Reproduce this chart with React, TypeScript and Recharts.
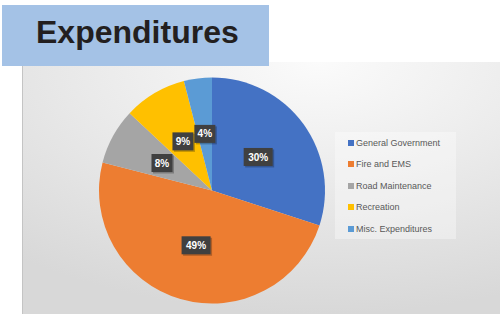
import React from 'react';
import { PieChart, Pie, Cell, Legend } from 'recharts';

const categories = ['General Government', 'Fire and EMS', 'Road Maintenance', 'Recreation', 'Misc. Expenditures'];
const shares = [30, 49, 8, 9, 4];
const colors = ['#4472C4', '#ED7D31', '#A5A5A5', '#FFC000', '#5B9BD5'];

const data = categories.map((name, i) => ({ name, value: shares[i] }));

const RAD = Math.PI / 180;

// dark callout boxes sitting halfway out on each slice
const renderLabel = (props: any) => {
  const { cx, cy, midAngle, outerRadius, value } = props;
  const r = outerRadius * 0.505;
  const x = cx + r * Math.cos(-midAngle * RAD);
  const y = cy + r * Math.sin(-midAngle * RAD);
  const text = `${value}%`;
  const w = text.length > 2 ? 29 : 21;
  const h = 18;
  return (
    <g>
      <rect x={x - w / 2 + 1.5} y={y - h / 2 + 1.5} width={w} height={h} fill="rgba(0,0,0,0.25)" />
      <rect x={x - w / 2} y={y - h / 2} width={w} height={h} fill="#404040" />
      <text
        x={x}
        y={y}
        dy={3.6}
        textAnchor="middle"
        fill="#ffffff"
        fontSize={10}
        fontWeight="bold"
        fontFamily="'Liberation Sans', Arial, sans-serif"
      >
        {text}
      </text>
    </g>
  );
};

const renderLegend = () => (
  <div
    style={{
      width: 121,
      height: 107,
      background: 'rgba(255,255,255,0.35)',
      boxSizing: 'border-box',
      paddingTop: 0,
      paddingLeft: 13,
    }}
  >
    {categories.map((name, i) => (
      <div
        key={name}
        style={{
          display: 'flex',
          alignItems: 'center',
          height: 21.5,
          fontSize: 9,
          color: '#595959',
          fontFamily: "'Liberation Sans', Arial, sans-serif",
          whiteSpace: 'nowrap',
        }}
      >
        <span style={{ width: 6, height: 6, background: colors[i], marginRight: 2, display: 'inline-block' }} />
        {name}
      </div>
    ))}
  </div>
);

export default function App() {
  return (
    <div style={{ position: 'absolute', left: 0, top: 0, width: 500, height: 314, background: '#ffffff', overflow: 'hidden' }}>
      <svg width={500} height={314} style={{ position: 'absolute', left: 0, top: 0 }}>
        <defs>
          <radialGradient id="bg" cx="0.62" cy="0" r="1">
            <stop offset="0" stopColor="#fbfbfb" />
            <stop offset="0.35" stopColor="#efefef" />
            <stop offset="1" stopColor="#d8d8d8" />
          </radialGradient>
        </defs>
        <rect x={22} y={62} width={478} height={252} fill="url(#bg)" />
        <line x1={22.5} y1={62} x2={22.5} y2={314} stroke="#c4c4c4" />
        <rect x={2} y={5} width={267} height={61} fill="#A4C2E6" />
        <text
          x={36}
          y={43}
          fontSize={32}
          fontWeight="bold"
          fill="#231f20"
          fontFamily="'Liberation Sans', Arial, sans-serif"
        >
          Expenditures
        </text>
      </svg>
      <div style={{ position: 'absolute', left: 0, top: 0 }}>
        <PieChart width={500} height={314} margin={{ top: 0, right: 0, bottom: 0, left: 0 }}>
          <Pie
            data={data}
            dataKey="value"
            nameKey="name"
            cx={212}
            cy={190.5}
            outerRadius={113}
            startAngle={90}
            endAngle={-270}
            stroke="none"
            label={renderLabel}
            labelLine={false}
            isAnimationActive={false}
          >
            {data.map((d, i) => (
              <Cell key={d.name} fill={colors[i]} />
            ))}
          </Pie>
          <Legend
            content={renderLegend}
            layout="vertical"
            wrapperStyle={{ position: 'absolute', left: 335, top: 132, width: 121, height: 107 }}
          />
        </PieChart>
      </div>
    </div>
  );
}
